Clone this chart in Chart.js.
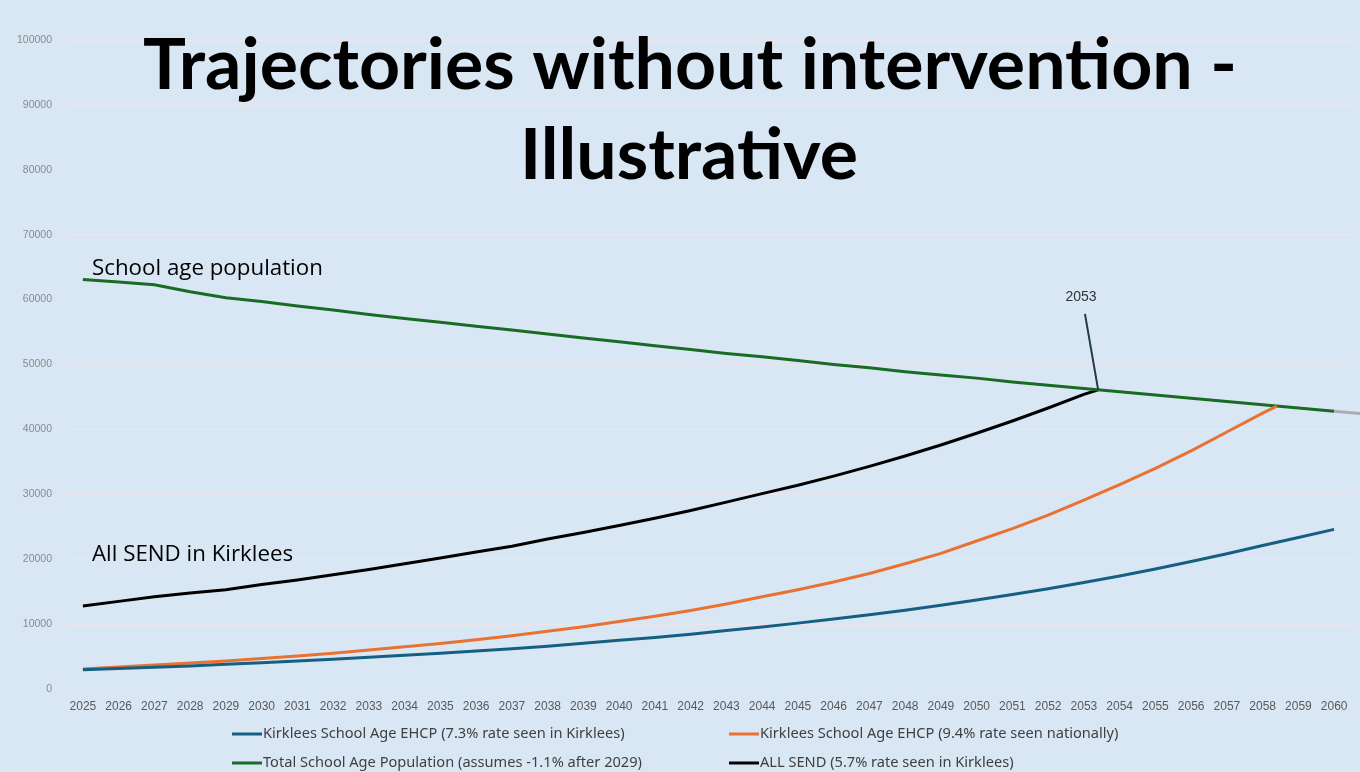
<!DOCTYPE html>
<html>
<head>
<meta charset="utf-8">
<script src="https://cdn.jsdelivr.net/npm/chart.js@4/dist/chart.umd.min.js"></script>
<style>
  html, body { margin: 0; padding: 0; background: #d9e7f5; }
  #wrap { width: 1360px; height: 772px; position: relative; background: #d9e7f5; }
  canvas { display: block; }
</style>
</head>
<body>
<div id="wrap"><canvas id="c" width="1360" height="772"></canvas></div>
<script>
// ---- Data ----
const years = [2025,2026,2027,2028,2029,2030,2031,2032,2033,2034,2035,2036,2037,2038,2039,2040,2041,2042,
               2043,2044,2045,2046,2047,2048,2049,2050,2051,2052,2053,2054,2055,2056,2057,2058,2059,2060];

const seriesLabels = [
  "Kirklees School Age EHCP (7.3% rate seen in Kirklees)",
  "Kirklees School Age EHCP (9.4% rate seen nationally)",
  "Total School Age Population (assumes -1.1% after 2029)",
  "ALL SEND (5.7% rate seen in Kirklees)"
];

// Total school age population, 2025-2060
const populationValues = [63100,62700,62300,61200,60300,59700,59000,58400,57700,57100,56500,55900,55300,54700,
                          54100,53500,52900,52300,51700,51200,50600,50000,49500,48900,48400,47900,47300,46800,
                          46300,45800,45300,44800,44300,43800,43300,42800];

// EHCP at Kirklees rate, 2025-2060
const ehcpKirkleesValues = [2950,3150,3350,3550,3800,4050,4300,4600,4900,5200,5500,5850,6200,6600,7050,7500,
                            7950,8450,9000,9550,10150,10800,11450,12150,12900,13700,14550,15450,16400,17400,
                            18500,19650,20850,22100,23350,24600];

// EHCP at national rate, 2025-2058, then the point where it meets the population line
const ehcpNationalValues = [3100,3400,3700,4000,4300,4700,5100,5500,6000,6500,7000,7600,8200,8900,9600,10400,
                            11200,12100,13100,14200,15300,16500,17800,19300,20900,22800,24700,26800,29100,
                            31500,34000,36700,39600,42500];
const ehcpNationalMeetYear = 2058.4;
const ehcpNationalMeetValue = 43600;

// All SEND, 2025-2053, then the point where it meets the population line
const sendValues = [12800,13500,14200,14800,15300,16100,16800,17600,18400,19300,20200,21100,22000,23100,24100,
                    25200,26300,27500,28800,30100,31400,32800,34300,35900,37600,39400,41300,43300,45400];
const sendMeetYear = 2053.4;
const sendMeetValue = 46100;

const yTicks = [0,10000,20000,30000,40000,50000,60000,70000,80000,90000,100000];

const titleLines = ["Trajectories without intervention -", "Illustrative"];
const noteSchool = "School age population";
const noteSend = "All SEND in Kirklees";
const noteYear = "2053";

const colors = ["#156082", "#E97132", "#196B24", "#000000"];

// ---- Build datasets ----
function pts(xs, vs) { return vs.map((v, i) => ({ x: xs[i], y: v })); }
const dsBlue = pts(years, ehcpKirkleesValues);
const dsOrange = pts(years, ehcpNationalValues).concat([{ x: ehcpNationalMeetYear, y: ehcpNationalMeetValue }]);
const dsGreen = pts(years, populationValues);
const dsBlack = pts(years, sendValues).concat([{ x: sendMeetYear, y: sendMeetValue }]);

function fitSize(ctx, text, weight, family, target) {
  ctx.font = weight + " 100px " + family;
  const w = ctx.measureText(text).width;
  return 100 * target / w;
}

const decor = {
  id: "decor",
  afterDatasetsDraw(chart) {
    const ctx = chart.ctx;
    const xs = chart.scales.x, ys = chart.scales.y;
    // grey continuation past the end of the population line
    const n = populationValues.length;
    const x1 = xs.getPixelForValue(years[n - 1]), y1 = ys.getPixelForValue(populationValues[n - 1]);
    const x0 = xs.getPixelForValue(years[n - 2]), y0 = ys.getPixelForValue(populationValues[n - 2]);
    const slope = (y1 - y0) / (x1 - x0);
    ctx.save();
    ctx.strokeStyle = "#a9adb3";
    ctx.lineWidth = 3;
    ctx.beginPath();
    ctx.moveTo(x1, y1);
    ctx.lineTo(chart.width, y1 + slope * (chart.width - x1));
    ctx.stroke();
    // callout for the 2053 meeting point
    const mx = xs.getPixelForValue(sendMeetYear), my = ys.getPixelForValue(sendMeetValue);
    const tx = xs.getPixelForValue(2053.03), ty = ys.getPixelForValue(57800);
    ctx.strokeStyle = "#213a4c";
    ctx.lineWidth = 2;
    ctx.beginPath();
    ctx.moveTo(tx, ty);
    ctx.lineTo(mx, my);
    ctx.stroke();
    ctx.fillStyle = "#333333";
    ctx.font = "14px 'Liberation Sans', Arial, sans-serif";
    ctx.textAlign = "center";
    ctx.textBaseline = "alphabetic";
    ctx.fillText(noteYear, tx - 4, ty - 13);
    ctx.restore();
  },
  afterDraw(chart) {
    const ctx = chart.ctx;
    ctx.save();
    // Title
    const tSize = fitSize(ctx, titleLines[0], "bold", "Lato, 'Open Sans', sans-serif", 1094);
    ctx.font = "bold " + tSize + "px Lato, 'Open Sans', sans-serif";
    ctx.fillStyle = "#000000";
    ctx.textAlign = "center";
    ctx.textBaseline = "alphabetic";
    ctx.fillText(titleLines[0], 690, 89);
    ctx.fillText(titleLines[1], 689, 179);
    // Notes
    ctx.textAlign = "left";
    const nSize = fitSize(ctx, noteSchool, "normal", "'Open Sans', sans-serif", 231);
    ctx.font = nSize + "px 'Open Sans', sans-serif";
    ctx.fillText(noteSchool, 92, 275);
    ctx.fillText(noteSend, 92, 561);
    // Legend
    const lSize = fitSize(ctx, seriesLabels[0], "normal", "'Noto Sans', sans-serif", 362);
    ctx.font = lSize + "px 'Noto Sans', sans-serif";
    ctx.fillStyle = "#404040";
    ctx.textBaseline = "middle";
    const pos = [[232, 734], [729, 734], [232, 763], [729, 763]];
    chart.data.datasets.forEach((ds, i) => {
      const [px, py] = pos[i];
      ctx.strokeStyle = ds.borderColor;
      ctx.lineWidth = 3;
      ctx.beginPath();
      ctx.moveTo(px, py);
      ctx.lineTo(px + 30, py);
      ctx.stroke();
      ctx.fillText(ds.label, px + 31, py);
    });
    ctx.restore();
  }
};

new Chart(document.getElementById("c"), {
  type: "line",
  data: {
    datasets: [
      { label: seriesLabels[0], data: dsBlue, borderColor: colors[0] },
      { label: seriesLabels[1], data: dsOrange, borderColor: colors[1] },
      { label: seriesLabels[2], data: dsGreen, borderColor: colors[2] },
      { label: seriesLabels[3], data: dsBlack, borderColor: colors[3] }
    ]
  },
  options: {
    responsive: false,
    animation: false,
    devicePixelRatio: 1,
    layout: { padding: { top: 40, right: 8, bottom: 53, left: 0 } },
    elements: {
      point: { radius: 0 },
      line: { borderWidth: 3, tension: 0, fill: false, borderCapStyle: "butt" }
    },
    plugins: { legend: { display: false }, tooltip: { enabled: false }, title: { display: false } },
    scales: {
      x: {
        type: "linear",
        min: 2024.5,
        max: 2060.5,
        afterBuildTicks: (s) => { s.ticks = years.map(v => ({ value: v })); },
        afterFit: (s) => { s.height = 30; },
        grid: { display: false, drawTicks: false },
        border: { display: false },
        ticks: {
          autoSkip: false,
          maxRotation: 0,
          padding: 10,
          color: "#595959",
          font: { family: "'Liberation Sans Narrow', 'Liberation Sans', Arial, sans-serif", size: 12 },
          callback: (v) => String(v)
        }
      },
      y: {
        min: 0,
        max: 100000,
        afterBuildTicks: (s) => { s.ticks = yTicks.map(v => ({ value: v })); },
        afterFit: (s) => { s.width = 65; },
        grid: { color: "#ece6ec", lineWidth: 1, drawTicks: false },
        border: { display: false },
        ticks: {
          padding: 13,
          color: "#8a8a8a",
          font: { family: "'Liberation Sans', Arial, sans-serif", size: 10.5 },
          callback: (v) => String(v)
        }
      }
    }
  },
  plugins: [decor]
});
</script>
</body>
</html>
